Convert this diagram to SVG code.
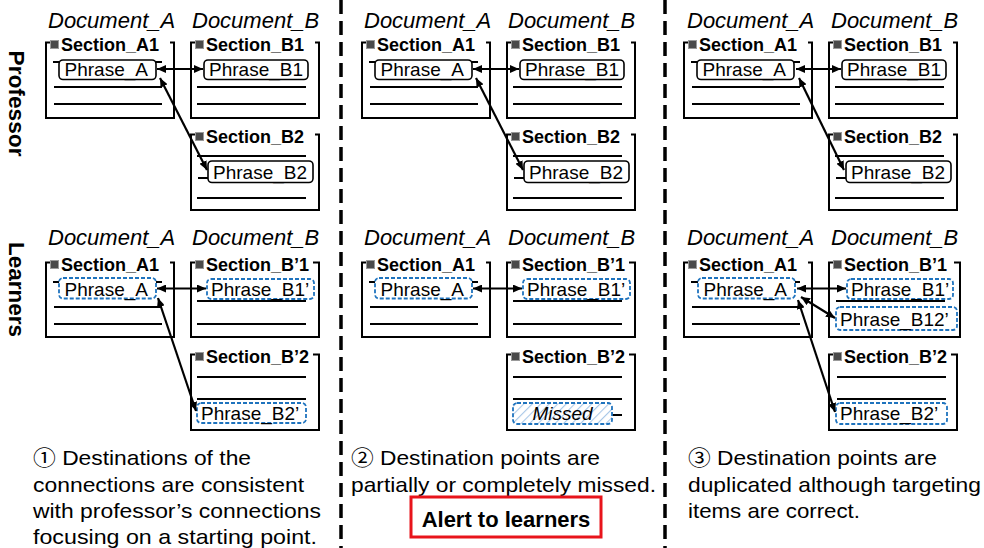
<svg xmlns="http://www.w3.org/2000/svg" width="984" height="548" viewBox="0 0 984 548">
<defs>
<style>
text{font-family:"Liberation Sans","Noto Sans CJK JP",sans-serif;fill:#000}
.doc{font-size:22px;font-style:italic}
.sec{font-size:18px;font-weight:bold}
.ph{font-size:19px}
.mis{font-size:19px;font-style:italic}
.row{font-size:22px;font-weight:bold}
.cap{font-size:21px}
.alert{font-size:22px;font-weight:bold}
.box{fill:none;stroke:#000;stroke-width:2}
.sq{fill:#4a4a4a;stroke:#9a9a9a;stroke-width:1}
.ln{stroke:#000;stroke-width:1.8}
.pb{fill:#fff;stroke:#000;stroke-width:1.6}
.lb{fill:#fff;stroke:#1e73be;stroke-width:1.8;stroke-dasharray:4 2}
.hb{fill:url(#hatch);stroke:#1e73be;stroke-width:1.8;stroke-dasharray:4 2}
.conn{fill:none;stroke:#000;stroke-width:2.2;marker-start:url(#ah);marker-end:url(#ah)}
.div{stroke:#000;stroke-width:3.5;stroke-dasharray:14 7}
</style>
<marker id="ah" viewBox="0 0 9 8" refX="9" refY="4" markerWidth="9" markerHeight="8" markerUnits="userSpaceOnUse" orient="auto-start-reverse">
<path d="M0,0 L9,4 L0,8 z" fill="#000"/>
</marker>
<pattern id="hatch" width="6" height="6" patternUnits="userSpaceOnUse" patternTransform="rotate(45)">
<rect width="6" height="6" fill="#fff"/>
<line x1="0" y1="0" x2="0" y2="6" stroke="#a9c8e8" stroke-width="2.2"/>
</pattern>
</defs>

<g id="dividers">
<line class="div" x1="341" y1="0" x2="341" y2="548"/>
<line class="div" x1="665" y1="0" x2="665" y2="548"/>
</g>

<g id="row-labels">
<text class="row" transform="translate(8.5,103.5) rotate(90)" text-anchor="middle" textLength="106" lengthAdjust="spacingAndGlyphs">Professor</text>
<text class="row" transform="translate(8.5,289.5) rotate(90)" text-anchor="middle" textLength="95" lengthAdjust="spacingAndGlyphs">Learners</text>
</g>

<!-- Panel 1 -->
<g id="panel1">
<g id="p1-labels">
<text class="doc" x="48" y="28">Document_A</text>
<text class="doc" x="192" y="28">Document_B</text>
<text class="doc" x="48" y="245">Document_A</text>
<text class="doc" x="192" y="245">Document_B</text>
</g>
<g id="p1-prof-A1">
<path class="box" d="M51,42.5 H46 V118 H174 V42.5 H170"/>
<rect class="sq" x="50.5" y="40.5" width="8" height="8"/>
<text class="sec" x="61" y="51">Section_A1</text>
<line class="ln" x1="53" y1="62" x2="162" y2="62"/>
<rect class="pb" x="59" y="60" width="97" height="19.5" rx="4"/>
<text class="ph" x="64.5" y="76">Phrase_A</text>
<line class="ln" x1="54" y1="87" x2="162" y2="87"/>
<line class="ln" x1="54" y1="104" x2="162" y2="104"/>
</g>
<g id="p1-prof-B1">
<path class="box" d="M196,42.5 H191 V118 H319 V42.5 H315"/>
<rect class="sq" x="195.5" y="40.5" width="8" height="8"/>
<text class="sec" x="206" y="51">Section_B1</text>
<rect class="pb" x="204" y="60" width="104" height="19.5" rx="4"/>
<text class="ph" x="209" y="76">Phrase_B1</text>
<line class="ln" x1="197" y1="87" x2="306" y2="87"/>
<line class="ln" x1="197" y1="104" x2="306" y2="104"/>
</g>
<g id="p1-prof-B2">
<path class="box" d="M196,134.5 H191 V210 H319 V134.5 H315"/>
<rect class="sq" x="195.5" y="132.5" width="8" height="8"/>
<text class="sec" x="206" y="143">Section_B2</text>
<line class="ln" x1="197" y1="156" x2="306" y2="156"/>
<line class="ln" x1="198" y1="178" x2="300" y2="178"/>
<rect class="pb" x="208" y="161" width="105" height="21.5" rx="4"/>
<text class="ph" x="213" y="179">Phrase_B2</text>
<line class="ln" x1="197" y1="198" x2="306" y2="198"/>
</g>
<g id="p1-learn-A1">
<path class="box" d="M51,262.5 H46 V337 H174 V262.5 H170"/>
<rect class="sq" x="50.5" y="260.5" width="8" height="8"/>
<text class="sec" x="61" y="271">Section_A1</text>
<line class="ln" x1="53" y1="282" x2="162" y2="282"/>
<rect class="lb" x="59" y="278" width="97" height="20.5" rx="4"/>
<text class="ph" x="64.5" y="295.5">Phrase_A</text>
<line class="ln" x1="54" y1="307" x2="162" y2="307"/>
<line class="ln" x1="54" y1="324" x2="162" y2="324"/>
</g>
<g id="p1-learn-B1">
<path class="box" d="M196,262.5 H191 V337 H319 V262.5 H313"/>
<rect class="sq" x="195.5" y="260.5" width="8" height="8"/>
<text class="sec" x="206" y="271">Section_B’1</text>
<rect class="lb" x="207" y="279" width="107" height="20" rx="4"/>
<text class="ph" x="211" y="296">Phrase_B1’</text>
<line class="ln" x1="197" y1="301" x2="306" y2="301"/>
<line class="ln" x1="197" y1="324" x2="306" y2="324"/>
</g>
<g id="p1-learn-B2">
<path class="box" d="M196,354.5 H191 V430 H319 V354.5 H313"/>
<rect class="sq" x="195.5" y="352.5" width="8" height="8"/>
<text class="sec" x="206" y="363">Section_B’2</text>
<line class="ln" x1="197" y1="377" x2="306" y2="377"/>
<line class="ln" x1="197" y1="399" x2="306" y2="399"/>
<rect class="lb" x="197" y="403" width="109" height="20" rx="4"/>
<text class="ph" x="201" y="419.5">Phrase_B2’</text>
</g>
<g id="p1-connectors">
<line class="conn" x1="157" y1="69" x2="203" y2="69"/>
<line class="conn" x1="160" y1="78" x2="207" y2="170"/>
<line class="conn" x1="157" y1="288.5" x2="206" y2="288.5"/>
<line class="conn" x1="158" y1="298" x2="196" y2="411"/>
</g>
</g>

<!-- Panel 2 -->
<g id="panel2" transform="translate(316,0)">
<g id="p2-labels">
<text class="doc" x="48" y="28">Document_A</text>
<text class="doc" x="192" y="28">Document_B</text>
<text class="doc" x="48" y="245">Document_A</text>
<text class="doc" x="192" y="245">Document_B</text>
</g>
<g id="p2-prof-A1">
<path class="box" d="M51,42.5 H46 V118 H174 V42.5 H170"/>
<rect class="sq" x="50.5" y="40.5" width="8" height="8"/>
<text class="sec" x="61" y="51">Section_A1</text>
<line class="ln" x1="53" y1="62" x2="162" y2="62"/>
<rect class="pb" x="59" y="60" width="97" height="19.5" rx="4"/>
<text class="ph" x="64.5" y="76">Phrase_A</text>
<line class="ln" x1="54" y1="87" x2="162" y2="87"/>
<line class="ln" x1="54" y1="104" x2="162" y2="104"/>
</g>
<g id="p2-prof-B1">
<path class="box" d="M196,42.5 H191 V118 H319 V42.5 H315"/>
<rect class="sq" x="195.5" y="40.5" width="8" height="8"/>
<text class="sec" x="206" y="51">Section_B1</text>
<rect class="pb" x="204" y="60" width="104" height="19.5" rx="4"/>
<text class="ph" x="209" y="76">Phrase_B1</text>
<line class="ln" x1="197" y1="87" x2="306" y2="87"/>
<line class="ln" x1="197" y1="104" x2="306" y2="104"/>
</g>
<g id="p2-prof-B2">
<path class="box" d="M196,134.5 H191 V210 H319 V134.5 H315"/>
<rect class="sq" x="195.5" y="132.5" width="8" height="8"/>
<text class="sec" x="206" y="143">Section_B2</text>
<line class="ln" x1="197" y1="156" x2="306" y2="156"/>
<line class="ln" x1="198" y1="178" x2="300" y2="178"/>
<rect class="pb" x="208" y="161" width="105" height="21.5" rx="4"/>
<text class="ph" x="213" y="179">Phrase_B2</text>
<line class="ln" x1="197" y1="198" x2="306" y2="198"/>
</g>
<g id="p2-learn-A1">
<path class="box" d="M51,262.5 H46 V337 H174 V262.5 H170"/>
<rect class="sq" x="50.5" y="260.5" width="8" height="8"/>
<text class="sec" x="61" y="271">Section_A1</text>
<line class="ln" x1="53" y1="282" x2="162" y2="282"/>
<rect class="lb" x="59" y="278" width="97" height="20.5" rx="4"/>
<text class="ph" x="64.5" y="295.5">Phrase_A</text>
<line class="ln" x1="54" y1="307" x2="162" y2="307"/>
<line class="ln" x1="54" y1="324" x2="162" y2="324"/>
</g>
<g id="p2-learn-B1">
<path class="box" d="M196,262.5 H191 V337 H319 V262.5 H313"/>
<rect class="sq" x="195.5" y="260.5" width="8" height="8"/>
<text class="sec" x="206" y="271">Section_B’1</text>
<rect class="lb" x="207" y="279" width="107" height="20" rx="4"/>
<text class="ph" x="211" y="296">Phrase_B1’</text>
<line class="ln" x1="197" y1="301" x2="306" y2="301"/>
<line class="ln" x1="197" y1="324" x2="306" y2="324"/>
</g>
<g id="p2-learn-B2">
<path class="box" d="M196,354.5 H191 V430 H319 V354.5 H313"/>
<rect class="sq" x="195.5" y="352.5" width="8" height="8"/>
<text class="sec" x="206" y="363">Section_B’2</text>
<line class="ln" x1="197" y1="377" x2="306" y2="377"/>
<line class="ln" x1="197" y1="399" x2="306" y2="399"/>
<line class="ln" x1="205" y1="415" x2="306" y2="415"/>
<rect class="hb" x="197" y="403" width="99" height="21" rx="4"/>
<text class="mis" x="246.5" y="420" text-anchor="middle">Missed</text>
</g>
<g id="p2-connectors">
<line class="conn" x1="157" y1="69" x2="203" y2="69"/>
<line class="conn" x1="160" y1="78" x2="207" y2="170"/>
<line class="conn" x1="157" y1="288.5" x2="206" y2="288.5"/>
</g>
</g>

<!-- Panel 3 -->
<g id="panel3" transform="translate(638,0)">
<g id="p3-labels">
<text class="doc" x="49" y="28">Document_A</text>
<text class="doc" x="193" y="28">Document_B</text>
<text class="doc" x="49" y="245">Document_A</text>
<text class="doc" x="193" y="245">Document_B</text>
</g>
<g id="p3-prof-A1">
<path class="box" d="M51,42.5 H46 V118 H174 V42.5 H170"/>
<rect class="sq" x="50.5" y="40.5" width="8" height="8"/>
<text class="sec" x="61" y="51">Section_A1</text>
<line class="ln" x1="53" y1="62" x2="162" y2="62"/>
<rect class="pb" x="59" y="60" width="97" height="19.5" rx="4"/>
<text class="ph" x="64.5" y="76">Phrase_A</text>
<line class="ln" x1="54" y1="87" x2="162" y2="87"/>
<line class="ln" x1="54" y1="104" x2="162" y2="104"/>
</g>
<g id="p3-prof-B1">
<path class="box" d="M196,42.5 H191 V118 H319 V42.5 H315"/>
<rect class="sq" x="195.5" y="40.5" width="8" height="8"/>
<text class="sec" x="206" y="51">Section_B1</text>
<rect class="pb" x="204" y="60" width="104" height="19.5" rx="4"/>
<text class="ph" x="209" y="76">Phrase_B1</text>
<line class="ln" x1="197" y1="87" x2="306" y2="87"/>
<line class="ln" x1="197" y1="104" x2="306" y2="104"/>
</g>
<g id="p3-prof-B2">
<path class="box" d="M196,134.5 H191 V210 H319 V134.5 H315"/>
<rect class="sq" x="195.5" y="132.5" width="8" height="8"/>
<text class="sec" x="206" y="143">Section_B2</text>
<line class="ln" x1="197" y1="156" x2="306" y2="156"/>
<line class="ln" x1="198" y1="178" x2="300" y2="178"/>
<rect class="pb" x="208" y="161" width="105" height="21.5" rx="4"/>
<text class="ph" x="213" y="179">Phrase_B2</text>
<line class="ln" x1="197" y1="198" x2="306" y2="198"/>
</g>
<g id="p3-learn-A1">
<path class="box" d="M51,262.5 H46 V337 H174 V262.5 H170"/>
<rect class="sq" x="50.5" y="260.5" width="8" height="8"/>
<text class="sec" x="61" y="271">Section_A1</text>
<line class="ln" x1="53" y1="282" x2="162" y2="282"/>
<rect class="lb" x="60" y="278" width="97" height="20.5" rx="4"/>
<text class="ph" x="65.5" y="295.5">Phrase_A</text>
<line class="ln" x1="54" y1="307" x2="162" y2="307"/>
<line class="ln" x1="54" y1="324" x2="162" y2="324"/>
</g>
<g id="p3-learn-B1">
<path class="box" d="M196,262.5 H191 V337 H322 V262.5 H316"/>
<rect class="sq" x="195.5" y="260.5" width="8" height="8"/>
<text class="sec" x="206" y="271">Section_B’1</text>
<rect class="lb" x="209" y="279" width="106" height="20" rx="4"/>
<text class="ph" x="213" y="296">Phrase_B1’</text>
<line class="ln" x1="198" y1="301" x2="307" y2="301"/>
<rect class="lb" x="198" y="307" width="121" height="23" rx="4"/>
<text class="ph" x="202" y="325.5">Phrase_B12’</text>
</g>
<g id="p3-learn-B2">
<path class="box" d="M196,354.5 H191 V430 H319 V354.5 H313"/>
<rect class="sq" x="195.5" y="352.5" width="8" height="8"/>
<text class="sec" x="206" y="363">Section_B’2</text>
<line class="ln" x1="199" y1="377" x2="308" y2="377"/>
<line class="ln" x1="199" y1="399" x2="308" y2="399"/>
<rect class="lb" x="198" y="403" width="111" height="21" rx="4"/>
<text class="ph" x="202" y="420">Phrase_B2’</text>
</g>
<g id="p3-connectors">
<line class="conn" x1="158" y1="69" x2="203" y2="69"/>
<line class="conn" x1="161" y1="78" x2="206" y2="170"/>
<line class="conn" x1="159" y1="288.5" x2="208" y2="288.5"/>
<line class="conn" x1="163" y1="297" x2="197" y2="318"/>
<line class="conn" x1="160" y1="300" x2="197" y2="412"/>
</g>
</g>

<g id="captions">
<text class="cap" x="33" y="465" textLength="218" lengthAdjust="spacingAndGlyphs">① Destinations of the</text>
<text class="cap" x="33" y="491.5" textLength="271" lengthAdjust="spacingAndGlyphs">connections are consistent</text>
<text class="cap" x="33" y="518" textLength="288" lengthAdjust="spacingAndGlyphs">with professor’s connections</text>
<text class="cap" x="33" y="544" textLength="284" lengthAdjust="spacingAndGlyphs">focusing on a starting point.</text>
<text class="cap" x="351" y="465" textLength="249" lengthAdjust="spacingAndGlyphs">② Destination points are</text>
<text class="cap" x="351" y="491.5" textLength="305" lengthAdjust="spacingAndGlyphs">partially or completely missed.</text>
<text class="cap" x="688" y="465" textLength="249" lengthAdjust="spacingAndGlyphs">③ Destination points are</text>
<text class="cap" x="688" y="491.5" textLength="293" lengthAdjust="spacingAndGlyphs">duplicated although targeting</text>
<text class="cap" x="688" y="518" textLength="172" lengthAdjust="spacingAndGlyphs">items are correct.</text>
</g>

<g id="alert">
<rect x="411" y="497" width="190" height="40" fill="#fff" stroke="#e8141b" stroke-width="3"/>
<text class="alert" x="506" y="527" text-anchor="middle">Alert to learners</text>
</g>
</svg>
